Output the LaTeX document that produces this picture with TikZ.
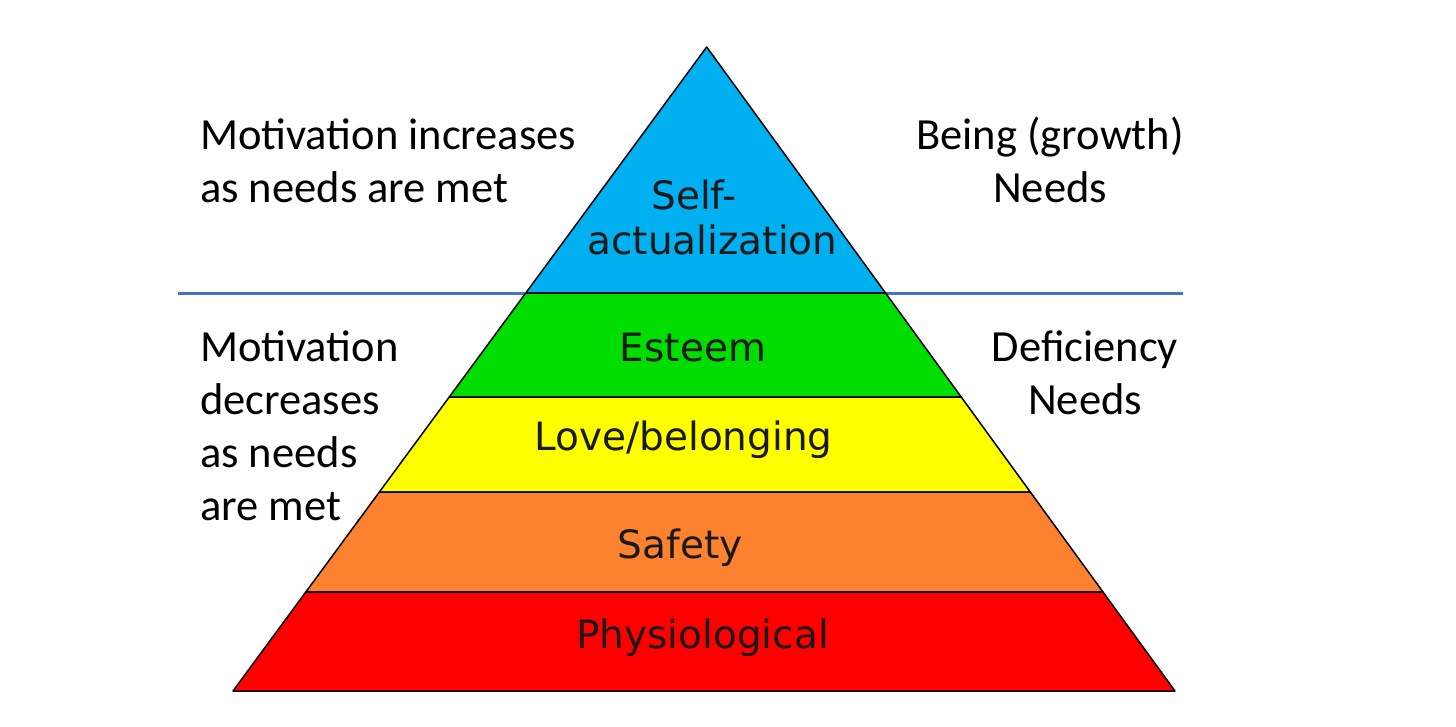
\documentclass[tikz,border=0pt]{standalone}
\usepackage{fontspec}
\setmainfont{Carlito}
\newfontfamily\pyrfont{DejaVu Sans}
\usetikzlibrary{calc}
\definecolor{skyblue}{RGB}{0,176,240}
\definecolor{lvlgreen}{RGB}{0,221,0}
\definecolor{lvlyellow}{RGB}{255,255,0}
\definecolor{lvlorange}{RGB}{252,130,48}
\definecolor{lvlred}{RGB}{255,0,0}
\definecolor{divblue}{RGB}{68,114,196}
\tikzset{
  layer/.style={draw=black, line width=1.5pt, line join=round},
  sidetext/.style={font=\fontsize{44.5}{53}\selectfont, inner sep=0pt, anchor=base west, align=left},
  sidetextc/.style={font=\fontsize{44.5}{53}\selectfont, inner sep=0pt, anchor=base, align=center},
  pyrtext/.style={font=\pyrfont\fontsize{39}{45}\selectfont, inner sep=0pt, anchor=base, text=black!90}
}
\begin{document}
\begin{tikzpicture}[x=1pt,y=-1pt]
\useasboundingbox[fill=white] (0,0) rectangle (1456,726);
\coordinate (apex) at (706.7,47);
\coordinate (bl) at (233,691);
\coordinate (br) at (1175,691);
\coordinate (l1) at ($(apex)!0.38199!(bl)$);
\coordinate (r1) at ($(apex)!0.38199!(br)$);
\coordinate (l2) at ($(apex)!0.54348!(bl)$);
\coordinate (r2) at ($(apex)!0.54348!(br)$);
\coordinate (l3) at ($(apex)!0.69099!(bl)$);
\coordinate (r3) at ($(apex)!0.69099!(br)$);
\coordinate (l4) at ($(apex)!0.84627!(bl)$);
\coordinate (r4) at ($(apex)!0.84627!(br)$);
% divider line
\coordinate (divL) at (178,293);
\coordinate (divR) at (1183,293);
\draw[divblue, line width=3pt] (divL) -- (divR);
% layers
\draw[layer, fill=skyblue] (apex) -- (r1) -- (l1) -- cycle;
\draw[layer, fill=lvlgreen] (l1) -- (r1) -- (r2) -- (l2) -- cycle;
\draw[layer, fill=lvlyellow] (l2) -- (r2) -- (r3) -- (l3) -- cycle;
\draw[layer, fill=lvlorange] (l3) -- (r3) -- (r4) -- (l4) -- cycle;
\draw[layer, fill=lvlred] (l4) -- (r4) -- (br) -- (bl) -- cycle;
% pyramid labels
\node[pyrtext] (self) at (694,209) {Self-};
\node[pyrtext] (actual) at (712.5,254) {actualization};
\node[pyrtext] (esteem) at (693,361) {Esteem};
\node[pyrtext] (love) at (683.5,450) {Love/belonging};
\node[pyrtext] (safety) at (680,558) {Safety};
\node[pyrtext] (phys) at (702.5,648) {Physiological};
% side labels
\node[sidetext] (inc) at (200,202) {Motivation increases\\as needs are met};
\node[sidetextc] (being) at (1050,202) {Being (growth)\\Needs};
\node[sidetext] (dec) at (200,520) {Motivation\\decreases\\as needs\\are met};
\node[sidetextc] (defic) at (1085,414) {Deficiency\\Needs};
\end{tikzpicture}
\end{document}
